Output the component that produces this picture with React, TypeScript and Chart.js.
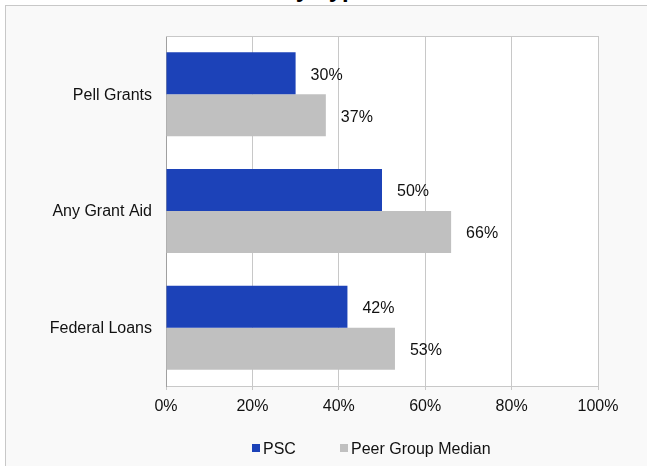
import React, { useEffect, useRef } from "react";
import { Chart, registerables } from "chart.js";

Chart.register(...registerables);

const categories = ["Pell Grants", "Any Grant Aid", "Federal Loans"];
const pscValues = [30, 50, 42];
const peerValues = [37, 66, 53];
const xTicks = [0, 20, 40, 60, 80, 100];
const seriesNames = ["PSC", "Peer Group Median"];
const titleText = "Financial Aid by Type";

const FONT = "Arial, 'Liberation Sans', sans-serif";
const BLUE = "#1c42b8";
const GRAY = "#c0c0c0";
const FS = 16;

const overlayPlugin = {
  id: "overlay",
  beforeDraw(chart: any) {
    const { ctx, chartArea } = chart;
    ctx.save();
    ctx.fillStyle = "#ffffff";
    ctx.fillRect(chartArea.left, chartArea.top, chartArea.right - chartArea.left, chartArea.bottom - chartArea.top);
    ctx.restore();
  },
  afterDraw(chart: any) {
    const { ctx, chartArea } = chart;
    ctx.save();
    ctx.strokeStyle = "#c8c8c8";
    ctx.lineWidth = 1;
    ctx.beginPath();
    ctx.moveTo(chartArea.left, chartArea.top + 0.5);
    ctx.lineTo(chartArea.right, chartArea.top + 0.5);
    ctx.stroke();

    ctx.font = FS + "px " + FONT;
    ctx.fillStyle = "#111";
    ctx.textAlign = "left";
    ctx.textBaseline = "middle";
    chart.data.datasets.forEach((ds: any, di: number) => {
      const meta = chart.getDatasetMeta(di);
      meta.data.forEach((bar: any, i: number) => {
        ctx.fillText(ds.data[i] + "%", bar.x + 15, bar.y + 2);
      });
    });

    const legendY = 448;
    const items = [
      { x: 252, color: BLUE, label: seriesNames[0] },
      { x: 340, color: GRAY, label: seriesNames[1] },
    ];
    items.forEach((it) => {
      ctx.fillStyle = it.color;
      ctx.fillRect(it.x, legendY - 4, 8, 8);
      ctx.fillStyle = "#111";
      ctx.fillText(it.label, it.x + 11, legendY + 2);
    });
    ctx.restore();
  },
};

export default function App() {
  const canvasRef = useRef<HTMLCanvasElement | null>(null);

  useEffect(() => {
    if (!canvasRef.current) return;
    const chart = new Chart(canvasRef.current, {
      type: "bar",
      data: {
        labels: categories,
        datasets: [
          {
            label: seriesNames[0],
            data: pscValues,
            backgroundColor: BLUE,
            borderWidth: 0,
            categoryPercentage: 0.72,
            barPercentage: 1.0,
          },
          {
            label: seriesNames[1],
            data: peerValues,
            backgroundColor: GRAY,
            borderWidth: 0,
            categoryPercentage: 0.72,
            barPercentage: 1.0,
          },
        ],
      },
      options: {
        indexAxis: "y",
        animation: false,
        responsive: false,
        maintainAspectRatio: false,
        layout: { padding: { left: 0, top: 36, right: 49, bottom: 50 } },
        plugins: {
          legend: { display: false },
          tooltip: { enabled: false },
          title: { display: false },
        },
        scales: {
          x: {
            min: 0,
            max: 100,
            afterBuildTicks: (scale: any) => {
              scale.ticks = xTicks.map((v) => ({ value: v }));
            },
            afterFit: (scale: any) => {
              scale.height = 30;
            },
            ticks: {
              callback: (v: any) => v + "%",
              font: { family: FONT, size: FS },
              color: "#111",
              padding: 7,
              maxRotation: 0,
            },
            grid: {
              color: "#c8c8c8",
              drawTicks: true,
              tickLength: 4,
              tickColor: "#c8c8c8",
            },
            border: { display: true, color: "#c8c8c8" },
          },
          y: {
            afterFit: (scale: any) => {
              scale.width = 166;
            },
            ticks: {
              font: { family: FONT, size: FS },
              color: "#111",
              padding: 14,
              labelOffset: 1,
            },
            grid: { display: false, drawTicks: false },
            border: { display: true, color: "#a0a0a0", width: 1 },
          },
        },
      },
      plugins: [overlayPlugin],
    } as any);
    return () => chart.destroy();
  }, []);

  return (
    <div
      style={{
        position: "fixed",
        left: 0,
        top: 0,
        width: 647,
        height: 466,
        overflow: "hidden",
        background: "#ffffff",
      }}
    >
      <div
        style={{
          position: "absolute",
          right: 277,
          top: -23,
          whiteSpace: "nowrap",
          font: "bold 24px " + FONT,
          lineHeight: "24px",
          color: "#000",
        }}
      >
        {titleText}
      </div>
      <div
        style={{
          position: "absolute",
          left: 5,
          top: 5,
          width: 700,
          height: 520,
          border: "1px solid #c8c8c8",
          background: "#f9f9f9",
        }}
      />
      <canvas
        ref={canvasRef}
        width={647}
        height={466}
        style={{ position: "absolute", left: 0, top: 0, width: 647, height: 466 }}
      />
    </div>
  );
}
